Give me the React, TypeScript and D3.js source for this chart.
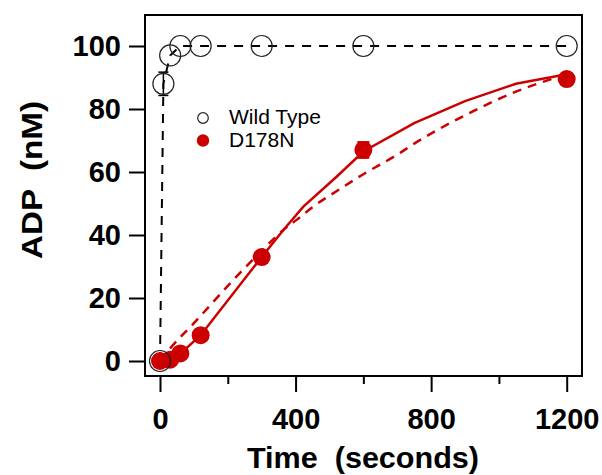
import React, { useRef, useEffect } from 'react';
import * as d3 from 'd3';

// wild type: measured points (open circles, dashed black line through them)
const wtTime = [0, 10, 30, 60, 120, 300, 600, 1200];
const wtADP = [0, 88, 97, 100, 100, 100, 100, 100];
const wtErr = [0, 3.7, 0, 0, 0, 0, 0, 0];

// D178N: measured points (filled red circles)
const mutTime = [0, 30, 60, 120, 300, 600, 1200];
const mutADP = [0, 0.4, 2.4, 8.2, 33, 67, 89.5];
const mutErr = [0, 0, 0, 0, 1.5, 2.5, 0.8];

// D178N model curves
const solidTime = [0, 30, 60, 120, 300, 364, 423, 521, 600, 750, 900, 1050, 1200];
const solidADP = [0, 0.5, 2.3, 8.2, 33, 41.6, 49, 58.5, 66.5, 75.5, 82.5, 88, 91];
const dashTime = [0, 30, 100, 216, 300, 364, 403, 452, 531, 600, 700, 750, 900, 1050, 1200];
const dashADP = [0, 4, 12, 25.7, 35, 41.6, 44.8, 49, 54.6, 59.3, 65.5, 69, 78, 85.5, 91];

const xMajor = [0, 400, 800, 1200];
const xMinor = [200, 600, 1000];
const yTicks = [0, 20, 40, 60, 80, 100];

const RED = '#cc0000';
const FONT = '"Liberation Sans", Arial, Helvetica, sans-serif';

export default function App() {
  const xAxisRef = useRef<SVGGElement>(null);
  const xMinorRef = useRef<SVGGElement>(null);
  const yAxisRef = useRef<SVGGElement>(null);

  // SET DIMENSIONS (frame box)
  const w = 602,
    h = 475;
  const frame = { left: 145, top: 15, right: 582, bottom: 376 };

  const x = d3.scaleLinear().domain([0, 1200]).range([160, 566.7]);
  const y = d3.scaleLinear().domain([0, 100]).range([361, 46]);

  useEffect(() => {
    const xAxis = d3
      .axisBottom(x)
      .tickValues(xMajor)
      .tickFormat(d3.format('d'))
      .tickSize(16)
      .tickPadding(16)
      .tickSizeOuter(0);
    const xMin = d3.axisBottom(x).tickValues(xMinor).tickSize(8).tickFormat(() => '').tickSizeOuter(0);
    const yAxis = d3
      .axisLeft(y)
      .tickValues(yTicks)
      .tickFormat(d3.format('d'))
      .tickSize(16)
      .tickPadding(8)
      .tickSizeOuter(0);

    const style = (g: d3.Selection<SVGGElement, unknown, null, undefined>) => {
      g.select('.domain').remove();
      g.selectAll('line').attr('stroke', '#000').attr('stroke-width', 2);
      g.selectAll('text')
        .attr('fill', '#000')
        .style('font-family', FONT)
        .style('font-weight', 'bold')
        .style('font-size', '29px');
    };

    d3.select(xAxisRef.current!).call(xAxis).call(style);
    d3.select(xMinorRef.current!).call(xMin).call(style);
    d3.select(yAxisRef.current!).call(yAxis).call(style);
  }, []);

  const path = (ts: number[], vs: number[], curve = d3.curveLinear) =>
    d3
      .line<number>()
      .x((d) => x(d))
      .y((d, i) => y(vs[i]))
      .curve(curve)(ts) || '';

  return (
    <svg width={w} height={h} style={{ position: 'absolute', left: 0, top: 0, background: '#fff' }}>
      <rect
        x={frame.left}
        y={frame.top}
        width={frame.right - frame.left}
        height={frame.bottom - frame.top}
        fill="none"
        stroke="#000"
        strokeWidth={2}
      />
      <g ref={xAxisRef} transform={`translate(0,${frame.bottom})`} />
      <g ref={xMinorRef} transform={`translate(0,${frame.bottom})`} />
      <g ref={yAxisRef} transform={`translate(${frame.left},0)`} />

      {/* wild type line */}
      <path d={path(wtTime, wtADP)} fill="none" stroke="#000" strokeWidth={2} strokeDasharray="9,8" />

      {/* D178N curves */}
      <path d={path(dashTime, dashADP, d3.curveMonotoneX)} fill="none" stroke={RED} strokeWidth={2.5} strokeDasharray="9,7" />
      <path d={path(solidTime, solidADP)} fill="none" stroke={RED} strokeWidth={2.5} />

      {/* error bars */}
      {wtTime.map((t, i) =>
        wtErr[i] > 0 ? (
          <g key={'we' + i} stroke="#000" strokeWidth={1.5}>
            <line x1={x(t)} x2={x(t)} y1={y(wtADP[i] - wtErr[i])} y2={y(wtADP[i] + wtErr[i])} />
            <line x1={x(t) - 5} x2={x(t) + 5} y1={y(wtADP[i] - wtErr[i])} y2={y(wtADP[i] - wtErr[i])} />
            <line x1={x(t) - 5} x2={x(t) + 5} y1={y(wtADP[i] + wtErr[i])} y2={y(wtADP[i] + wtErr[i])} />
          </g>
        ) : null
      )}
      {mutTime.map((t, i) =>
        mutErr[i] > 0 ? (
          <g key={'me' + i} stroke={RED} strokeWidth={2}>
            <line x1={x(t)} x2={x(t)} y1={y(mutADP[i] - mutErr[i])} y2={y(mutADP[i] + mutErr[i])} />
            <line x1={x(t) - 6} x2={x(t) + 6} y1={y(mutADP[i] - mutErr[i])} y2={y(mutADP[i] - mutErr[i])} />
            <line x1={x(t) - 6} x2={x(t) + 6} y1={y(mutADP[i] + mutErr[i])} y2={y(mutADP[i] + mutErr[i])} />
          </g>
        ) : null
      )}

      {/* points */}
      {mutTime.map((t, i) => (
        <circle key={'m' + i} cx={x(t)} cy={y(mutADP[i])} r={9} fill={RED} />
      ))}
      {wtTime.map((t, i) => (
        <circle key={'w' + i} cx={x(t)} cy={y(wtADP[i])} r={10.5} fill="none" stroke="#222" strokeWidth={1.2} />
      ))}

      {/* legend */}
      <circle cx={203} cy={118} r={5.3} fill="none" stroke="#222" strokeWidth={1.2} />
      <circle cx={203} cy={140.5} r={6.2} fill={RED} />
      <text x={229} y={123.5} fontFamily={FONT} fontSize={21}>
        Wild Type
      </text>
      <text x={229} y={146.5} fontFamily={FONT} fontSize={21}>
        D178N
      </text>

      {/* axis titles */}
      <text
        x={363}
        y={468}
        textAnchor="middle"
        fontFamily={FONT}
        fontWeight="bold"
        fontSize={29}
        textLength={232}
        lengthAdjust="spacingAndGlyphs"
        style={{ whiteSpace: 'pre' }}
      >
        {'Time  (seconds)'}
      </text>
      <text
        transform="translate(42,180) rotate(-90)"
        textAnchor="middle"
        fontFamily={FONT}
        fontWeight="bold"
        fontSize={29}
        textLength={158}
        lengthAdjust="spacingAndGlyphs"
        style={{ whiteSpace: 'pre' }}
      >
        {'ADP  (nM)'}
      </text>
    </svg>
  );
}
